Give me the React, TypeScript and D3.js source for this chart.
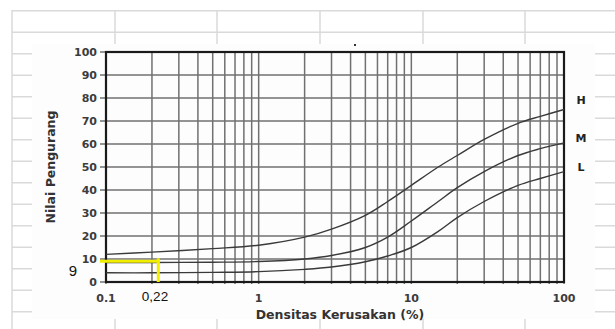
import React from "react";
import * as d3 from "d3";

// damage density (%) sample points and deduct values per severity
const densitas = [0.1, 0.2, 0.5, 1, 2, 3, 5, 7, 10, 15, 20, 30, 50, 70, 100];
const seriesH = [12, 13, 14.5, 16, 19.5, 23, 29, 35, 42, 50, 55, 62, 69, 72, 75];
const seriesM = [8.5, 8.5, 8.6, 8.9, 10, 11.5, 15, 19.5, 26.5, 35, 41, 48, 55, 58, 60.5];
const seriesL = [4, 4, 4.2, 4.5, 5.5, 6.5, 8.8, 11.3, 15, 22, 28, 35, 42, 45, 48];
const seriesNames = ["H", "M", "L"];
const xTickLabels = ["0.1", "1", "10", "100"];
const yTicks = [0, 10, 20, 30, 40, 50, 60, 70, 80, 90, 100];

// annotation
const markX = 0.22;
const markY = 9;

// spreadsheet cells behind the pasted image
const sheetCols = [12, 115, 217, 320, 423, 525];
const sheetRows = d3.range(0, 15).map((i) => 10.7 + i * 21.5);

const W = 615, H = 329;
const margin = { top: 52, right: 51, bottom: 47, left: 106 };

export default function App() {
  const x = d3.scaleLog().domain([0.1, 100]).range([margin.left, W - margin.right]);
  const y = d3.scaleLinear().domain([0, 100]).range([H - margin.bottom, margin.top]);

  const line = d3
    .line<number>()
    .x((d, i) => x(densitas[i]))
    .y((d) => y(d))
    .curve(d3.curveCatmullRom.alpha(0.5));

  const allSeries = [seriesH, seriesM, seriesL];
  const labelY = [100, 138, 167]; // H, M, L label baselines-ish
  const grid = "#707070";
  const font = "'DejaVu Sans', sans-serif";

  return (
    <svg width={W} height={H} style={{ position: "absolute", left: 0, top: 0, background: "#fff" }}>
      {/* sheet grid */}
      <g stroke="#dadada" strokeWidth={1.5}>
        {sheetRows.map((r, i) => (
          <line key={"r" + i} x1={12} x2={W} y1={r} y2={r} />
        ))}
        {sheetCols.map((c, i) => (
          <line key={"c" + i} x1={c} x2={c} y1={10} y2={H} />
        ))}
      </g>
      <rect x={32} y={44} width={563} height={275} fill="#fdfdfd" />
      <rect x={354} y={44} width={2} height={2} fill="#333" />

      {/* chart grid */}
      <g stroke={grid} strokeWidth={1.5}>
        {x.ticks().map((t, i) => (
          <line key={"v" + i} x1={x(t)} x2={x(t)} y1={y(100)} y2={y(0) + 2} />
        ))}
        {yTicks.map((t, i) => (
          <line key={"h" + i} x1={x(0.1) - 6} x2={x(100)} y1={y(t)} y2={y(t)} />
        ))}
      </g>
      <rect
        x={x(0.1)}
        y={y(100)}
        width={x(100) - x(0.1)}
        height={y(0) - y(100)}
        fill="none"
        stroke="#1a1a1a"
        strokeWidth={2.2}
      />

      {/* curves */}
      {allSeries.map((s, i) => (
        <path key={i} d={line(s) || ""} fill="none" stroke="#3a3a3a" strokeWidth={1.4} />
      ))}
      {seriesNames.map((n, i) => (
        <text
          key={n}
          x={581}
          y={labelY[i] + 4}
          textAnchor="middle"
          fontFamily={font}
          fontWeight="bold"
          fontSize={11}
          fill="#222"
        >
          {n}
        </text>
      ))}

      {/* axes labels */}
      {yTicks.map((t) => (
        <text
          key={t}
          x={x(0.1) - 9}
          y={y(t) + 4}
          textAnchor="end"
          fontFamily={font}
          fontWeight="bold"
          fontSize={11}
          fill="#3c3c3c"
        >
          {t}
        </text>
      ))}
      {xTickLabels.map((t) => (
        <text
          key={t}
          x={x(+t)}
          y={302}
          textAnchor="middle"
          fontFamily={font}
          fontWeight="bold"
          fontSize={11}
          fill="#3c3c3c"
        >
          {t}
        </text>
      ))}
      <text x={340} y={319} textAnchor="middle" fontFamily={font} fontWeight="bold" fontSize={12.5} fill="#333">
        Densitas Kerusakan (%)
      </text>
      <text
        transform={`translate(55, 167) rotate(-90)`}
        textAnchor="middle"
        fontFamily={font}
        fontWeight="bold"
        fontSize={12.5}
        fill="#333"
      >
        Nilai Pengurang
      </text>

      {/* yellow annotation */}
      <g stroke="#f2ee00" strokeWidth={3}>
        <line x1={x(0.1) - 6} x2={x(markX) + 1.5} y1={y(markY)} y2={y(markY)} />
        <line x1={x(markX)} x2={x(markX)} y1={y(markY) - 3} y2={y(0)} />
      </g>
      <text x={73} y={276} textAnchor="middle" fontFamily="'Liberation Sans', Arial, sans-serif" fontSize={15} fill="#111">
        {markY}
      </text>
      <text x={155} y={301} textAnchor="middle" fontFamily="'Liberation Sans', Arial, sans-serif" fontSize={13.5} fill="#111">
        0,22
      </text>
    </svg>
  );
}
